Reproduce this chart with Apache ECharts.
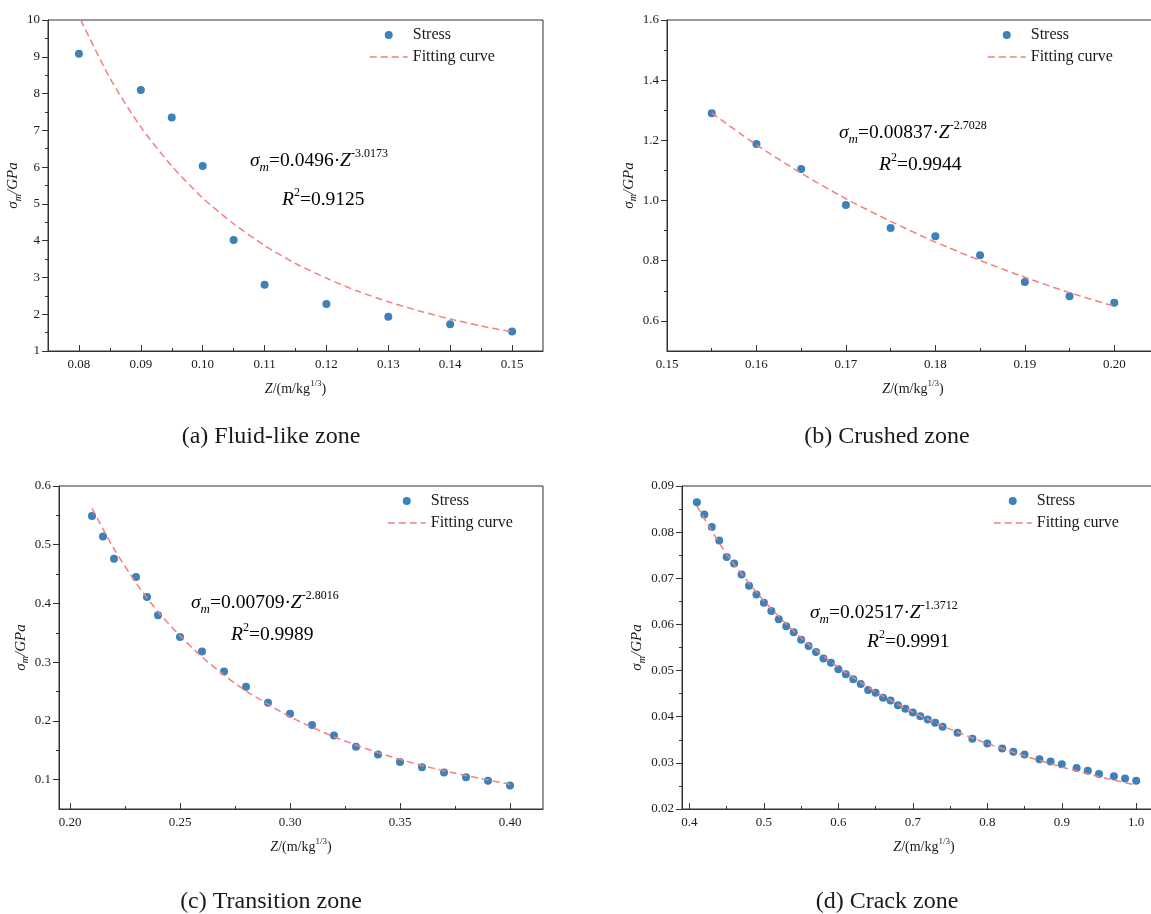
<!DOCTYPE html>
<html><head><meta charset="utf-8">
<script src="https://cdn.jsdelivr.net/npm/echarts@6/dist/echarts.min.js"></script>
<style>html,body{margin:0;padding:0;background:#fff;overflow:hidden}#c{width:1200px;height:914px}</style>
</head><body><div id="c"></div>
<script>
// ---------- data (a) Fluid-like zone ----------
const aZ = [0.08, 0.09, 0.095, 0.10, 0.105, 0.11, 0.12, 0.13, 0.14, 0.15];
const aStress = [9.08, 8.10, 7.35, 6.03, 4.02, 2.80, 2.28, 1.93, 1.73, 1.53];
const aFitZ = [0.0803, 0.085, 0.09, 0.095, 0.10, 0.105, 0.11, 0.115, 0.12, 0.125, 0.13, 0.135, 0.14, 0.145, 0.15];
const aFit = [10.0, 8.42, 7.09, 6.03, 5.16, 4.46, 3.87, 3.38, 2.98, 2.63, 2.34, 2.09, 1.87, 1.68, 1.52];
const aXLabels = [0.08, 0.09, 0.10, 0.11, 0.12, 0.13, 0.14, 0.15];
const aXMinor = [0.085, 0.095, 0.105, 0.115, 0.125, 0.135, 0.145];
const aYLabels = [1, 2, 3, 4, 5, 6, 7, 8, 9, 10];
const aYMinor = [1.5, 2.5, 3.5, 4.5, 5.5, 6.5, 7.5, 8.5, 9.5];

// ---------- data (b) Crushed zone ----------
const bZ = [0.155, 0.16, 0.165, 0.17, 0.175, 0.18, 0.185, 0.19, 0.195, 0.20];
const bStress = [1.290, 1.188, 1.105, 0.985, 0.909, 0.881, 0.818, 0.729, 0.682, 0.660];
const bFitZ = [0.155, 0.16, 0.165, 0.17, 0.175, 0.18, 0.185, 0.19, 0.195, 0.20];
const bFit = [1.291, 1.185, 1.091, 1.006, 0.931, 0.862, 0.801, 0.745, 0.694, 0.649];
const bXLabels = [0.15, 0.16, 0.17, 0.18, 0.19, 0.20];
const bXMinor = [0.155, 0.165, 0.175, 0.185, 0.195];
const bYLabels = [0.6, 0.8, 1.0, 1.2, 1.4, 1.6];
const bYMinor = [0.7, 0.9, 1.1, 1.3, 1.5];

// ---------- data (c) Transition zone ----------
const cZ = [0.21, 0.215, 0.22, 0.23, 0.235, 0.24, 0.25, 0.26, 0.27, 0.28, 0.29, 0.30, 0.31, 0.32, 0.33, 0.34, 0.35, 0.36, 0.37, 0.38, 0.39, 0.40];
const cStress = [0.549, 0.514, 0.476, 0.445, 0.411, 0.380, 0.343, 0.318, 0.284, 0.258, 0.231, 0.212, 0.193, 0.175, 0.156, 0.143, 0.130, 0.121, 0.112, 0.104, 0.098, 0.090];
const cFitZ = [0.21, 0.22, 0.23, 0.24, 0.25, 0.26, 0.27, 0.28, 0.30, 0.32, 0.34, 0.36, 0.38, 0.40];
const cFit = [0.562, 0.493, 0.435, 0.386, 0.345, 0.309, 0.278, 0.251, 0.207, 0.173, 0.146, 0.124, 0.107, 0.092];
const cXLabels = [0.20, 0.25, 0.30, 0.35, 0.40];
const cXMinor = [0.225, 0.275, 0.325, 0.375];
const cYLabels = [0.1, 0.2, 0.3, 0.4, 0.5, 0.6];
const cYMinor = [0.15, 0.25, 0.35, 0.45, 0.55];

// ---------- data (d) Crack zone ----------
const dZ = [0.41, 0.42, 0.43, 0.44, 0.45, 0.46, 0.47, 0.48, 0.49, 0.50, 0.51, 0.52, 0.53, 0.54, 0.55, 0.56, 0.57, 0.58, 0.59, 0.60, 0.61, 0.62, 0.63, 0.64, 0.65, 0.66, 0.67, 0.68, 0.69, 0.70, 0.71, 0.72, 0.73, 0.74, 0.76, 0.78, 0.80, 0.82, 0.835, 0.85, 0.87, 0.885, 0.90, 0.92, 0.935, 0.95, 0.97, 0.985, 1.00];
const dStress = [0.0865, 0.0838, 0.0811, 0.0782, 0.0746, 0.0732, 0.0708, 0.0684, 0.0665, 0.0647, 0.0629, 0.0611, 0.0596, 0.0583, 0.0567, 0.0553, 0.0540, 0.0526, 0.0517, 0.0503, 0.0492, 0.0481, 0.0471, 0.0458, 0.0452, 0.0441, 0.0435, 0.0425, 0.0417, 0.0409, 0.0401, 0.0394, 0.0387, 0.0378, 0.0365, 0.0352, 0.0342, 0.0331, 0.0324, 0.0318, 0.0308, 0.0303, 0.0297, 0.0289, 0.0283, 0.0276, 0.0271, 0.0266, 0.0261];
const dFitZ = [0.41, 0.45, 0.50, 0.55, 0.60, 0.65, 0.70, 0.75, 0.80, 0.85, 0.90, 0.95, 1.00];
const dFit = [0.0857, 0.0752, 0.0651, 0.0571, 0.0507, 0.0454, 0.0410, 0.0373, 0.0342, 0.0315, 0.0291, 0.0270, 0.0252];
const dXLabels = [0.4, 0.5, 0.6, 0.7, 0.8, 0.9, 1.0];
const dXMinor = [0.45, 0.55, 0.65, 0.75, 0.85, 0.95];
const dYLabels = [0.02, 0.03, 0.04, 0.05, 0.06, 0.07, 0.08, 0.09];
const dYMinor = [0.025, 0.035, 0.045, 0.055, 0.065, 0.075, 0.085];

// ---------- texts ----------
const seriesNames = ['Stress', 'Fitting curve'];
const equations = [
  ['0.0496', '-3.0173', '0.9125'],
  ['0.00837', '-2.7028', '0.9944'],
  ['0.00709', '-2.8016', '0.9989'],
  ['0.02517', '-1.3712', '0.9991']
];
const captions = ['(a) Fluid-like zone', '(b) Crushed zone', '(c) Transition zone', '(d) Crack zone'];

// ---------- styling / layout ----------
const FONT = '"Liberation Serif","Times New Roman",serif';
const TXT = '#1a1a1a';
const AX = '#333';
const DOT = '#0b61a6';
const FITC = '#f47f7f';

const panels = [
  {grid: {left: 48, top: 20, width: 495, height: 331}, x: [0.075, 0.155], y: [1, 10], xd: 2, yd: 0,
   z: aZ, s: aStress, fz: aFitZ, f: aFit, xl: aXLabels, xm: aXMinor, yl: aYLabels, ym: aYMinor,
   yGap: 21, leg: [369, 25], eq: [250, 161], r2: [282, 200], cap: [271, 437]},
  {grid: {left: 667, top: 20, width: 492, height: 331}, x: [0.15, 0.205], y: [0.5, 1.6], xd: 2, yd: 1,
   z: bZ, s: bStress, fz: bFitZ, f: bFit, xl: bXLabels, xm: bXMinor, yl: bYLabels, ym: bYMinor,
   yGap: 24, leg: [987, 25], eq: [839, 133], r2: [879, 165], cap: [887, 437]},
  {grid: {left: 59, top: 486, width: 484, height: 323}, x: [0.195, 0.415], y: [0.05, 0.6], xd: 2, yd: 1,
   z: cZ, s: cStress, fz: cFitZ, f: cFit, xl: cXLabels, xm: cXMinor, yl: cYLabels, ym: cYMinor,
   yGap: 23, leg: [387, 491], eq: [191, 603], r2: [231, 635], cap: [271, 902]},
  {grid: {left: 682, top: 486, width: 484, height: 323}, x: [0.39, 1.04], y: [0.02, 0.09], xd: 1, yd: 2,
   z: dZ, s: dStress, fz: dFitZ, f: dFit, xl: dXLabels, xm: dXMinor, yl: dYLabels, ym: dYMinor,
   yGap: 29, leg: [993, 491], eq: [810, 613], r2: [867, 642], cap: [887, 902]}
];

const eqRich = {
  i: {fontFamily: FONT, fontStyle: 'italic', fontSize: 19.5, color: TXT, lineHeight: 26},
  t: {fontFamily: FONT, fontSize: 19.5, color: TXT, lineHeight: 26},
  sub: {fontFamily: FONT, fontStyle: 'italic', fontSize: 13, color: TXT, lineHeight: 13, verticalAlign: 'bottom'},
  sup: {fontFamily: FONT, fontSize: 12, color: TXT, lineHeight: 13, verticalAlign: 'top'}
};
const xNameRich = {
  i: {fontFamily: FONT, fontStyle: 'italic', fontSize: 14, color: TXT, lineHeight: 20},
  t: {fontFamily: FONT, fontSize: 14, color: TXT, lineHeight: 20},
  sup: {fontFamily: FONT, fontSize: 9, color: TXT, lineHeight: 10, verticalAlign: 'top'}
};
const yNameRich = {
  i: {fontFamily: FONT, fontStyle: 'italic', fontSize: 15, color: TXT, lineHeight: 20},
  sub: {fontFamily: FONT, fontStyle: 'italic', fontSize: 10, color: TXT, lineHeight: 10, verticalAlign: 'bottom'}
};

const grids = [], xAxes = [], yAxes = [], series = [], legends = [], graphics = [];
panels.forEach((p, k) => {
  grids.push(Object.assign({show: true, borderColor: AX, borderWidth: 1, containLabel: false}, p.grid));
  const labelStyle = {fontFamily: FONT, fontSize: 13, color: TXT};
  xAxes.push({
    type: 'value', gridIndex: k, position: 'bottom', min: p.x[0], max: p.x[1],
    splitLine: {show: false},
    axisLine: {show: true, onZero: false, lineStyle: {color: AX, width: 1}},
    axisTick: {show: true, inside: true, length: 6, customValues: p.xl, lineStyle: {color: AX}},
    axisLabel: Object.assign({customValues: p.xl, margin: 7, formatter: v => Number(v).toFixed(p.xd)}, labelStyle),
    name: '{i|Z}{t|/(m/kg}{sup|1/3}{t|)}', nameLocation: 'middle', nameGap: 28,
    nameTextStyle: {rich: xNameRich}
  });
  xAxes.push({
    type: 'value', gridIndex: k, position: 'bottom', min: p.x[0], max: p.x[1],
    splitLine: {show: false}, axisLine: {show: false}, axisLabel: {show: false},
    axisTick: {show: true, inside: true, length: 3, customValues: p.xm, lineStyle: {color: AX}}
  });
  yAxes.push({
    type: 'value', gridIndex: k, position: 'left', min: p.y[0], max: p.y[1],
    splitLine: {show: false},
    axisLine: {show: true, onZero: false, lineStyle: {color: AX, width: 1}},
    axisTick: {show: true, inside: false, length: 6, customValues: p.yl, lineStyle: {color: AX}},
    axisLabel: Object.assign({customValues: p.yl, margin: 8, formatter: v => Number(v).toFixed(p.yd)}, labelStyle),
    name: '{i|σ}{sub|m}{i|/GPa}', nameLocation: 'middle', nameRotate: 90, nameGap: p.yGap,
    nameTextStyle: {rich: yNameRich}
  });
  yAxes.push({
    type: 'value', gridIndex: k, position: 'left', min: p.y[0], max: p.y[1],
    splitLine: {show: false}, axisLine: {show: false}, axisLabel: {show: false},
    axisTick: {show: true, inside: false, length: 3, customValues: p.ym, lineStyle: {color: AX}}
  });
  series.push({
    name: seriesNames[0], type: 'scatter', xAxisIndex: 2 * k, yAxisIndex: 2 * k,
    symbol: 'circle', symbolSize: 8, itemStyle: {color: DOT}, z: 2,
    data: p.z.map((v, i) => [v, p.s[i]])
  });
  series.push({
    name: seriesNames[1], type: 'line', xAxisIndex: 2 * k, yAxisIndex: 2 * k,
    symbol: 'none', smooth: 0.25, z: 3,
    lineStyle: {color: FITC, width: 1.5, type: [7, 4]}, itemStyle: {color: FITC},
    data: p.fz.map((v, i) => [v, p.f[i]])
  });
  legends.push({
    data: [
      {name: seriesNames[0]},
      {name: seriesNames[1], itemStyle: {color: 'rgba(0,0,0,0)', borderWidth: 0, opacity: 0},
       lineStyle: {color: FITC, width: 1.5, type: [7, 4], opacity: 1}}
    ],
    orient: 'vertical', left: p.leg[0], top: p.leg[1], padding: 0,
    itemWidth: 38, itemHeight: 8, itemGap: 2, selectedMode: false,
    textStyle: {fontFamily: FONT, fontSize: 16, color: TXT, lineHeight: 20}
  });
  const e = equations[k];
  graphics.push({
    type: 'text', x: p.eq[0], y: p.eq[1],
    style: {text: '{i|σ}{sub|m}{t|=' + e[0] + '·}{i|Z}{sup|' + e[1] + '}', rich: eqRich,
      align: 'left', verticalAlign: 'middle', textAlign: 'left', textVerticalAlign: 'middle'}
  });
  graphics.push({
    type: 'text', x: p.r2[0], y: p.r2[1],
    style: {text: '{i|R}{sup|2}{t|=' + e[2] + '}', rich: eqRich,
      align: 'left', verticalAlign: 'middle', textAlign: 'left', textVerticalAlign: 'middle'}
  });
  graphics.push({
    type: 'text', x: p.cap[0], y: p.cap[1],
    style: {text: captions[k], fontFamily: FONT, fontSize: 24, fill: TXT, font: '24px ' + FONT,
      align: 'center', verticalAlign: 'middle', textAlign: 'center', textVerticalAlign: 'middle'}
  });
});

const chart = echarts.init(document.getElementById('c'), null, {renderer: 'canvas'});
chart.setOption({
  backgroundColor: '#fff',
  animation: false,
  grid: grids, xAxis: xAxes, yAxis: yAxes, series: series, legend: legends,
  graphic: graphics
});
</script>
</body></html>
